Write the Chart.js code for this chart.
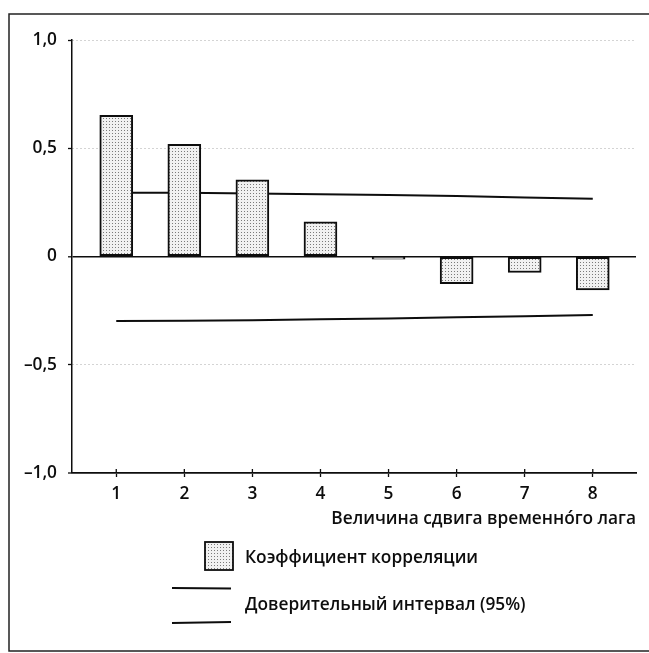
<!DOCTYPE html>
<html>
<head>
<meta charset="utf-8">
<script src="https://cdn.jsdelivr.net/npm/chart.js@4"></script>
<style>
  html, body { margin: 0; padding: 0; background: #fff; }
  #wrap { position: relative; width: 649px; height: 653px; }
  canvas { display: block; }
</style>
</head>
<body>
<div id="wrap"><canvas id="c" width="649" height="653"></canvas></div>
<script>
// ---- data ----
const lags = [1, 2, 3, 4, 5, 6, 7, 8];
const correlation = [0.652, 0.518, 0.354, 0.160, -0.012, -0.126, -0.074, -0.154];
const ciUpper = [0.295, 0.294, 0.291, 0.288, 0.284, 0.279, 0.273, 0.267];
const ciLower = [-0.298, -0.297, -0.294, -0.290, -0.286, -0.281, -0.276, -0.270];
const yTickValues = [-1, -0.5, 0, 0.5, 1];
const yTickLabels = ['–1,0', '–0,5', '0', '0,5', '1,0'];
const xTitle = 'Величина сдвига временно\u0301го лага';
const barLabel = 'Коэффициент корреляции';
const ciLabel = 'Доверительный интервал (95%)';

const FONT = '"Open Sans", "DejaVu Sans", sans-serif';
const WEIGHT = '600';
const SIZE = 17.3;
const INK = '#0d0d0d';

// dotted fill pattern for the bars
function makePattern() {
  const p = document.createElement('canvas');
  p.width = 3; p.height = 3;
  const g = p.getContext('2d');
  g.fillStyle = '#f1f1f1';
  g.fillRect(0, 0, 3, 3);
  g.fillStyle = '#7a7a7a';
  g.fillRect(1, 1, 1, 1);
  return g.createPattern(p, 'repeat');
}
const ctx = document.getElementById('c').getContext('2d');
const barPattern = makePattern();

const decorPlugin = {
  id: 'decor',
  afterDraw(chart) {
    const c = chart.ctx;
    const xs = chart.scales.x;
    const area = chart.chartArea;
    c.save();
    // outer frame
    c.strokeStyle = '#222';
    c.lineWidth = 1.5;
    c.beginPath();
    c.moveTo(649, 14); c.lineTo(9, 14); c.lineTo(9, 651); c.lineTo(649, 651);
    c.stroke();
    // upper half of the crossing x ticks
    c.strokeStyle = INK;
    c.lineWidth = 1.3;
    xs.ticks.forEach(t => {
      const px = xs.getPixelForValue(t.value);
      c.beginPath();
      c.moveTo(px, area.bottom - 4);
      c.lineTo(px, area.bottom);
      c.stroke();
    });
    // legend
    c.font = WEIGHT + ' ' + SIZE + 'px ' + FONT;
    c.textBaseline = 'middle';
    c.textAlign = 'left';
    // bar swatch
    c.fillStyle = barPattern;
    c.fillRect(205, 542, 28, 28);
    c.strokeStyle = INK;
    c.lineWidth = 1.8;
    c.strokeRect(205, 542, 28, 28);
    c.fillStyle = INK;
    c.fillText(chart.data.datasets[0].label, 245, 558);
    // CI lines
    c.lineWidth = 2;
    c.beginPath();
    c.moveTo(172, 588); c.lineTo(231, 588.5);
    c.moveTo(172, 623); c.lineTo(231, 622);
    c.stroke();
    c.fillText(chart.data.datasets[1].label, 245, 605);
    c.restore();
  }
};

new Chart(ctx, {
  type: 'bar',
  data: {
    datasets: [
      {
        type: 'bar',
        label: barLabel,
        data: lags.map((x, i) => ({ x: x, y: correlation[i] })),
        backgroundColor: barPattern,
        borderColor: INK,
        borderWidth: 2,
        borderSkipped: false,
        barThickness: 33,
        order: 0
      },
      {
        type: 'line',
        label: ciLabel,
        data: lags.map((x, i) => ({ x: x, y: ciUpper[i] })),
        borderColor: INK,
        borderWidth: 2,
        pointRadius: 0,
        fill: false,
        tension: 0,
        order: 1
      },
      {
        type: 'line',
        label: ciLabel,
        data: lags.map((x, i) => ({ x: x, y: ciLower[i] })),
        borderColor: INK,
        borderWidth: 2,
        pointRadius: 0,
        fill: false,
        tension: 0,
        order: 1
      }
    ]
  },
  options: {
    responsive: false,
    animation: false,
    layout: { padding: { left: 0, right: 13, top: 40, bottom: 0 } },
    plugins: { legend: { display: false }, tooltip: { enabled: false } },
    scales: {
      x: {
        type: 'linear',
        min: 0.35,
        max: 8.635,
        offset: false,
        afterFit(scale) { scale.height = 180; },
        afterBuildTicks(scale) { scale.ticks = lags.map(v => ({ value: v })); },
        grid: {
          offset: false,
          drawOnChartArea: false,
          drawTicks: true,
          tickLength: 4,
          tickColor: INK,
          tickWidth: 1.3
        },
        border: { display: true, color: INK, width: 1.8 },
        ticks: {
          autoSkip: false,
          maxRotation: 0,
          padding: 7,
          color: INK,
          font: { family: FONT, size: SIZE, weight: WEIGHT },
          callback: (v) => String(v)
        },
        title: {
          display: true,
          text: xTitle,
          align: 'end',
          color: INK,
          font: { family: FONT, size: SIZE, weight: WEIGHT },
          padding: { top: 0, bottom: 124 }
        }
      },
      y: {
        min: -1,
        max: 1,
        afterFit(scale) { scale.width = 72; },
        afterBuildTicks(scale) { scale.ticks = yTickValues.map(v => ({ value: v })); },
        grid: {
          offset: false,
          drawOnChartArea: true,
          drawTicks: true,
          tickLength: 4,
          tickColor: INK,
          tickWidth: 1.3,
          color: (c) => (c.tick && c.tick.value === 0) ? INK : '#a8a8a8',
          lineWidth: (c) => {
            if (!c.tick) return 1;
            if (c.tick.value === 0) return 1.6;
            if (c.tick.value === -1) return 0;
            return 1;
          }
        },
        border: {
          display: true,
          color: INK,
          width: 1.5,
          dash: (c) => (c.tick && c.tick.value !== 0) ? [1, 3] : []
        },
        ticks: {
          padding: 11,
          color: INK,
          font: { family: FONT, size: SIZE, weight: WEIGHT },
          callback: (v) => {
            const i = yTickValues.indexOf(v);
            return i >= 0 ? yTickLabels[i] : '';
          }
        }
      }
    }
  },
  plugins: [decorPlugin]
});
</script>
</body>
</html>
